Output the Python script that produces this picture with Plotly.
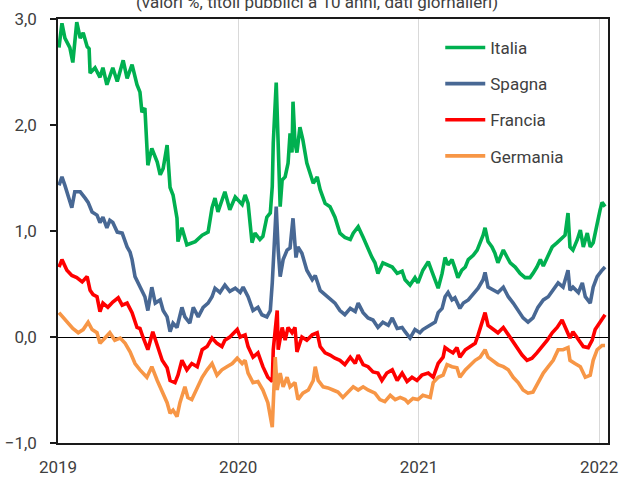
import plotly.graph_objects as go

# ---------------- data (10y government bond yields, %) ----------------
italia_dates = ["2019-01-03","2019-01-09","2019-01-15","2019-01-25","2019-01-31","2019-02-08","2019-02-15","2019-02-21","2019-03-01","2019-03-05","2019-03-07","2019-03-17","2019-03-27","2019-04-02","2019-04-10","2019-04-22","2019-05-01","2019-05-13","2019-05-21","2019-05-31","2019-06-10","2019-06-16","2019-06-20","2019-06-26","2019-07-02","2019-07-10","2019-07-21","2019-07-27","2019-08-02","2019-08-10","2019-08-16","2019-08-22","2019-08-30","2019-09-01","2019-09-09","2019-09-19","2019-10-06","2019-10-20","2019-11-01","2019-11-09","2019-11-15","2019-11-21","2019-12-05","2019-12-15","2019-12-26",
"2020-01-05","2020-01-09","2020-01-15","2020-01-21","2020-01-29","2020-02-04","2020-02-14","2020-02-20","2020-02-28","2020-03-06","2020-03-10","2020-03-12","2020-03-18","2020-03-22","2020-03-26","2020-03-30","2020-04-05","2020-04-11","2020-04-15","2020-04-19","2020-04-21","2020-04-25","2020-04-29","2020-05-05","2020-05-11","2020-05-19","2020-05-26","2020-06-01","2020-06-09","2020-06-15","2020-06-25","2020-07-05","2020-07-15","2020-07-25","2020-08-04","2020-08-15","2020-08-21","2020-08-31","2020-09-10","2020-09-18","2020-09-28","2020-10-04","2020-10-10","2020-10-20","2020-10-31","2020-11-08","2020-11-18","2020-11-28","2020-12-04","2020-12-14","2020-12-24","2020-12-30",
"2021-01-09","2021-01-20","2021-01-28","2021-02-03","2021-02-09","2021-02-17","2021-02-23","2021-03-01","2021-03-09","2021-03-15","2021-03-21","2021-03-29","2021-04-05","2021-04-11","2021-04-21","2021-04-29","2021-05-05","2021-05-11","2021-05-15","2021-05-21","2021-05-29","2021-06-04","2021-06-10","2021-06-21","2021-06-29","2021-07-05","2021-07-15","2021-07-25","2021-08-04","2021-08-14","2021-08-20","2021-08-28","2021-09-04","2021-09-10","2021-09-18","2021-09-28","2021-10-08","2021-10-18","2021-10-24","2021-10-30","2021-11-03","2021-11-09","2021-11-18","2021-11-24","2021-11-30","2021-12-08","2021-12-14","2021-12-20","2021-12-28","2022-01-03","2022-01-07","2022-01-13"]
italia = [2.73,2.96,2.82,2.73,2.59,2.97,2.82,2.87,2.74,2.72,2.49,2.54,2.45,2.54,2.38,2.54,2.41,2.61,2.44,2.57,2.38,2.31,2.12,2.16,1.62,1.78,1.65,1.53,1.59,1.81,1.41,1.34,1.12,0.90,1.03,0.87,0.90,0.96,0.99,1.22,1.31,1.18,1.37,1.20,1.32,
1.27,1.25,1.34,1.26,0.89,0.98,0.92,0.95,1.13,1.17,1.42,1.83,2.40,1.70,1.23,1.48,1.51,1.64,1.92,1.74,2.22,1.83,1.74,1.98,1.86,1.64,1.55,1.45,1.51,1.39,1.26,1.23,1.13,0.98,0.94,0.92,0.98,1.04,0.94,0.85,0.75,0.70,0.60,0.70,0.68,0.66,0.60,0.62,0.54,0.49,0.56,0.51,
0.63,0.71,0.61,0.54,0.46,0.60,0.75,0.68,0.73,0.65,0.56,0.63,0.66,0.73,0.77,0.82,0.89,0.96,1.03,0.90,0.85,0.79,0.70,0.82,0.75,0.70,0.66,0.60,0.56,0.56,0.60,0.66,0.73,0.67,0.75,0.85,0.89,0.93,0.96,1.17,0.85,0.82,0.92,1.01,0.85,0.98,0.85,0.89,1.08,1.20,1.27,1.23]

spagna_dates = ["2019-01-03","2019-01-09","2019-01-15","2019-01-21","2019-01-29","2019-02-04","2019-02-15","2019-02-25","2019-03-03","2019-03-11","2019-03-21","2019-03-27","2019-04-02","2019-04-10","2019-04-16","2019-04-22","2019-05-01","2019-05-11","2019-05-17","2019-05-21","2019-05-27","2019-05-31","2019-06-06","2019-06-16","2019-06-26","2019-07-02","2019-07-10","2019-07-17","2019-07-27","2019-08-02","2019-08-10","2019-08-16","2019-08-22","2019-08-30","2019-09-09","2019-09-15","2019-09-25","2019-10-02","2019-10-12","2019-10-22","2019-11-01","2019-11-09","2019-11-15","2019-11-25","2019-12-05","2019-12-15","2019-12-26",
"2020-01-05","2020-01-11","2020-01-21","2020-01-31","2020-02-10","2020-02-18","2020-02-28","2020-03-06","2020-03-10","2020-03-14","2020-03-18","2020-03-22","2020-03-26","2020-04-01","2020-04-09","2020-04-15","2020-04-21","2020-04-27","2020-05-01","2020-05-09","2020-05-19","2020-05-30","2020-06-05","2020-06-15","2020-06-25","2020-07-05","2020-07-15","2020-07-25","2020-08-04","2020-08-15","2020-08-25","2020-08-31","2020-09-10","2020-09-20","2020-09-30","2020-10-10","2020-10-20","2020-10-31","2020-11-08","2020-11-18","2020-11-28","2020-12-04","2020-12-14","2020-12-24",
"2021-01-03","2021-01-09","2021-01-24","2021-02-03","2021-02-09","2021-02-17","2021-02-23","2021-03-01","2021-03-09","2021-03-15","2021-03-25","2021-04-01","2021-04-11","2021-04-21","2021-05-01","2021-05-11","2021-05-15","2021-05-21","2021-05-31","2021-06-10","2021-06-21","2021-07-01","2021-07-11","2021-07-21","2021-07-31","2021-08-10","2021-08-20","2021-08-30","2021-09-10","2021-09-20","2021-09-30","2021-10-10","2021-10-20","2021-10-30","2021-11-03","2021-11-09","2021-11-20","2021-11-28","2021-12-04","2021-12-14","2021-12-20","2021-12-28","2022-01-07","2022-01-13"]
spagna = [1.43,1.51,1.43,1.34,1.22,1.37,1.37,1.31,1.27,1.18,1.15,1.08,1.13,1.03,1.10,1.08,0.99,0.98,0.90,0.85,0.80,0.73,0.57,0.47,0.38,0.25,0.47,0.32,0.35,0.25,0.19,0.05,0.13,0.09,0.28,0.19,0.13,0.28,0.19,0.28,0.32,0.38,0.46,0.42,0.49,0.43,0.46,
0.42,0.47,0.38,0.25,0.28,0.21,0.19,0.25,0.51,0.92,1.23,0.82,0.57,0.73,0.82,0.84,1.12,0.75,0.85,0.79,0.63,0.54,0.58,0.44,0.40,0.35,0.32,0.25,0.21,0.27,0.24,0.32,0.23,0.18,0.16,0.09,0.14,0.11,0.18,0.08,0.09,0.05,-0.01,0.07,
0.04,0.07,0.11,0.14,0.23,0.27,0.38,0.42,0.35,0.37,0.27,0.32,0.35,0.40,0.46,0.54,0.61,0.47,0.44,0.42,0.47,0.38,0.32,0.25,0.18,0.14,0.18,0.28,0.35,0.38,0.44,0.51,0.47,0.63,0.44,0.47,0.42,0.51,0.38,0.32,0.47,0.57,0.63,0.66]

francia_dates = ["2019-01-03","2019-01-09","2019-01-19","2019-01-29","2019-02-08","2019-02-19","2019-03-01","2019-03-07","2019-03-13","2019-03-21","2019-03-27","2019-04-02","2019-04-12","2019-04-22","2019-05-03","2019-05-11","2019-05-21","2019-05-31","2019-06-10","2019-06-16","2019-06-22","2019-07-02","2019-07-12","2019-07-21","2019-07-31","2019-08-10","2019-08-16","2019-08-26","2019-09-01","2019-09-09","2019-09-19","2019-09-29","2019-10-10","2019-10-20","2019-10-30","2019-11-09","2019-11-19","2019-11-29","2019-12-05","2019-12-15","2019-12-30",
"2020-01-05","2020-01-15","2020-01-21","2020-01-31","2020-02-10","2020-02-20","2020-03-01","2020-03-10","2020-03-12","2020-03-16","2020-03-20","2020-03-22","2020-03-30","2020-04-05","2020-04-11","2020-04-19","2020-04-25","2020-04-29","2020-05-09","2020-05-19","2020-05-30","2020-06-09","2020-06-15","2020-06-25","2020-07-05","2020-07-15","2020-07-25","2020-08-04","2020-08-15","2020-08-25","2020-08-31","2020-09-10","2020-09-20","2020-09-30","2020-10-10","2020-10-18","2020-10-28","2020-11-08","2020-11-18","2020-11-28","2020-12-08","2020-12-18","2020-12-28",
"2021-01-07","2021-01-20","2021-01-30","2021-02-09","2021-02-19","2021-02-23","2021-03-01","2021-03-11","2021-03-19","2021-03-25","2021-04-05","2021-04-15","2021-04-25","2021-05-01","2021-05-09","2021-05-15","2021-05-21","2021-05-31","2021-06-10","2021-06-21","2021-07-01","2021-07-09","2021-07-19","2021-07-29","2021-08-08","2021-08-18","2021-08-28","2021-09-08","2021-09-18","2021-09-28","2021-10-08","2021-10-18","2021-10-28","2021-11-03","2021-11-09","2021-11-20","2021-11-30","2021-12-10","2021-12-18","2021-12-24","2021-12-30","2022-01-07","2022-01-13"]
francia = [0.66,0.73,0.63,0.58,0.56,0.52,0.57,0.44,0.40,0.38,0.24,0.32,0.28,0.33,0.37,0.30,0.32,0.23,0.09,0.08,0.00,-0.12,0.05,-0.09,-0.22,-0.29,-0.41,-0.43,-0.36,-0.22,-0.31,-0.25,-0.28,-0.12,-0.09,-0.01,-0.06,-0.09,-0.03,0.00,0.07,
0.00,0.02,-0.09,-0.19,-0.15,-0.28,-0.38,-0.42,-0.12,0.09,0.25,-0.12,0.09,-0.03,0.09,0.04,0.09,-0.14,0.00,-0.03,0.02,0.04,-0.09,-0.15,-0.17,-0.20,-0.22,-0.26,-0.19,-0.25,-0.17,-0.26,-0.28,-0.33,-0.34,-0.41,-0.34,-0.31,-0.41,-0.34,-0.42,-0.38,-0.41,
-0.36,-0.34,-0.38,-0.25,-0.19,-0.10,-0.12,-0.15,-0.10,-0.19,-0.12,-0.09,-0.06,0.02,0.13,0.23,0.11,0.08,0.04,0.09,0.02,-0.03,-0.10,-0.17,-0.22,-0.20,-0.15,-0.09,-0.03,0.04,0.09,0.16,0.04,-0.01,0.05,-0.03,-0.09,-0.10,-0.03,0.07,0.11,0.16,0.21]

germania_dates = ["2019-01-03","2019-01-11","2019-01-21","2019-01-31","2019-02-11","2019-02-21","2019-03-03","2019-03-11","2019-03-21","2019-03-27","2019-04-06","2019-04-16","2019-04-26","2019-05-07","2019-05-17","2019-05-27","2019-06-06","2019-06-16","2019-06-30","2019-07-10","2019-07-21","2019-07-27","2019-08-02","2019-08-10","2019-08-16","2019-08-22","2019-08-30","2019-09-05","2019-09-15","2019-09-21","2019-09-29","2019-10-10","2019-10-20","2019-10-30","2019-11-09","2019-11-19","2019-11-29","2019-12-09","2019-12-20","2019-12-30",
"2020-01-09","2020-01-15","2020-01-21","2020-01-31","2020-02-10","2020-02-20","2020-03-01","2020-03-10","2020-03-12","2020-03-16","2020-03-20","2020-03-26","2020-04-01","2020-04-09","2020-04-15","2020-04-25","2020-05-01","2020-05-11","2020-05-22","2020-06-01","2020-06-05","2020-06-11","2020-06-21","2020-07-01","2020-07-11","2020-07-21","2020-07-31","2020-08-11","2020-08-21","2020-08-31","2020-09-10","2020-09-20","2020-10-04","2020-10-14","2020-10-24","2020-11-04","2020-11-14","2020-11-24","2020-12-04","2020-12-10","2020-12-20","2020-12-30",
"2021-01-09","2021-01-24","2021-01-30","2021-02-09","2021-02-19","2021-02-27","2021-03-09","2021-03-19","2021-03-25","2021-04-05","2021-04-15","2021-04-25","2021-05-05","2021-05-15","2021-05-21","2021-05-31","2021-06-10","2021-06-21","2021-07-01","2021-07-11","2021-07-21","2021-07-31","2021-08-10","2021-08-20","2021-08-30","2021-09-10","2021-09-20","2021-09-30","2021-10-10","2021-10-20","2021-10-30","2021-11-03","2021-11-13","2021-11-24","2021-12-04","2021-12-14","2021-12-20","2021-12-28","2022-01-07","2022-01-13"]
germania = [0.23,0.19,0.13,0.08,0.04,0.07,0.14,0.07,0.04,-0.06,-0.01,0.04,-0.03,-0.01,-0.06,-0.14,-0.25,-0.31,-0.38,-0.28,-0.41,-0.47,-0.53,-0.62,-0.72,-0.69,-0.75,-0.62,-0.47,-0.57,-0.59,-0.47,-0.38,-0.31,-0.25,-0.36,-0.31,-0.28,-0.25,-0.20,
-0.25,-0.22,-0.34,-0.43,-0.42,-0.50,-0.62,-0.85,-0.59,-0.19,-0.50,-0.34,-0.47,-0.38,-0.47,-0.43,-0.59,-0.53,-0.50,-0.41,-0.28,-0.41,-0.47,-0.48,-0.50,-0.52,-0.57,-0.52,-0.47,-0.50,-0.47,-0.50,-0.53,-0.59,-0.61,-0.55,-0.59,-0.57,-0.59,-0.62,-0.58,-0.59,
-0.55,-0.57,-0.43,-0.38,-0.36,-0.26,-0.28,-0.29,-0.38,-0.31,-0.26,-0.22,-0.19,-0.12,-0.19,-0.22,-0.26,-0.28,-0.31,-0.38,-0.43,-0.50,-0.53,-0.52,-0.43,-0.34,-0.28,-0.22,-0.12,-0.12,-0.10,-0.22,-0.25,-0.28,-0.38,-0.36,-0.22,-0.12,-0.08,-0.08]

series = [
    ("Italia", italia_dates, italia, "#00b050"),
    ("Spagna", spagna_dates, spagna, "#486894"),
    ("Francia", francia_dates, francia, "#ff0000"),
    ("Germania", germania_dates, germania, "#f79646"),
]
year_ticks = ["2019-01-01", "2020-01-01", "2021-01-01", "2022-01-01"]
year_labels = ["2019", "2020", "2021", "2022"]
y_ticks = [-1, 0, 1, 2, 3]
title_text = "(valori %, titoli pubblici a 10 anni, dati giornalieri)"

FONT = "Roboto, 'Open Sans', sans-serif"
TXT = "#404040"

fig = go.Figure()
for name, d, v, c in series:
    fig.add_trace(go.Scatter(x=d, y=v, name=name, mode="lines", legendgroup=name,
                             line=dict(color=c, width=3.6)))

fig.update_layout(
    width=621, height=479,
    margin=dict(l=58, r=13, t=19, b=36, autoexpand=False),
    paper_bgcolor="white", plot_bgcolor="white",
    separators=",.",
    font=dict(family=FONT, size=17, color=TXT),
    showlegend=True,
    legend=dict(x=0.695, y=0.974, xanchor="left", yanchor="top",
                bgcolor="rgba(0,0,0,0)", tracegroupgap=11, itemwidth=40,
                font=dict(family=FONT, size=17, color=TXT)),
    xaxis=dict(type="date", range=["2019-01-01", "2022-01-19"], automargin=False,
               tickvals=year_ticks, ticktext=year_labels, ticks="",
               showgrid=True, gridcolor="#d9d9d9", gridwidth=1,
               showline=True, linecolor="#1a1a1a", linewidth=1.5, mirror=True,
               zeroline=False, ticklabelstandoff=8),
    yaxis=dict(range=[-1, 3], tickvals=y_ticks, tickformat=".1f", automargin=False,
               ticks="outside", ticklen=6, tickcolor="#1a1a1a", tickwidth=1.5,
               showgrid=False, zeroline=True, zerolinecolor="#000000", zerolinewidth=1.3,
               showline=True, linecolor="#1a1a1a", linewidth=1.5, mirror=True,
               ticklabelstandoff=10),
    annotations=[dict(text=title_text, xref="paper", yref="paper", x=0.471, y=1,
                      xanchor="center", yanchor="middle", yshift=17, showarrow=False,
                      font=dict(family=FONT, size=17, color=TXT))],
)

fig.write_html("out.html", config={"displayModeBar": False},
               post_script="document.body.style.margin='0';")
